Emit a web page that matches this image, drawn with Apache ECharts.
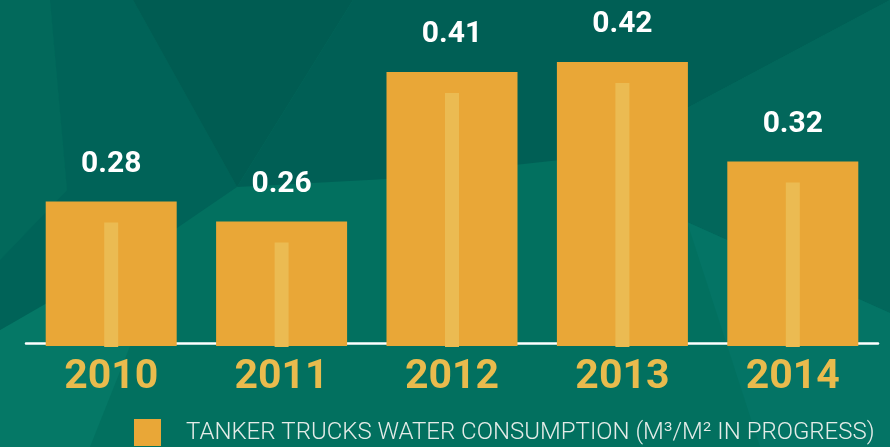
<!DOCTYPE html>
<html>
<head>
<meta charset="utf-8">
<script src="https://cdn.jsdelivr.net/npm/echarts@6/dist/echarts.min.js"></script>
<style>
html,body{margin:0;padding:0;background:#02705F;}
#chart{width:890px;height:447px;}
</style>
</head>
<body>
<div id="chart"></div>
<script>
const categories = ['2010', '2011', '2012', '2013', '2014'];
const consumption = [0.28, 0.26, 0.41, 0.42, 0.32];
const seriesName = 'TANKER TRUCKS WATER CONSUMPTION (M³/M² IN PROGRESS)';

const Y_MIN = 0.135;
const Y_MAX = 0.445;
const BAR_COLOR = '#E9A737';
const INNER_COLOR = '#EBBB52';

function poly(points, color) {
  return { type: 'polygon', silent: true, z: -10, shape: { points: points }, style: { fill: color } };
}

const chart = echarts.init(document.getElementById('chart'));
chart.setOption({
  backgroundColor: '#02705F',
  animation: false,
  graphic: [
    poly([[0,330],[177,228],[90,447],[0,447]], '#057866'),
    poly([[0,0],[50,0],[67,190],[0,260]], '#02695B'),
    poly([[50,0],[133,0],[237,187],[177,228],[0,330],[0,260],[67,190]], '#006358'),
    poly([[133,0],[353,0],[237,187]], '#005C52'),
    poly([[353,0],[890,0],[687,108],[560,160],[387,179],[237,187]], '#005F55'),
    poly([[687,108],[890,0],[890,313],[687,222],[560,160]], '#02675B'),
    poly([[687,222],[890,313],[890,447],[760,447]], '#047465')
  ],
  grid: { left: 26, right: 12, top: 37, bottom: 101 },
  legend: {
    left: 134,
    top: 419,
    padding: 0,
    icon: 'rect',
    itemWidth: 27,
    itemHeight: 27,
    selectedMode: false,
    data: [seriesName],
    textStyle: {
      color: '#E4ECE8',
      fontSize: 24,
      fontFamily: 'Roboto',
      fontWeight: 300,
      letterSpacing: 0.85,
      padding: [0, 0, 0, 20]
    }
  },
  xAxis: {
    type: 'category',
    data: categories,
    offset: -3,
    axisLine: { show: true, lineStyle: { color: '#FFFFFF', width: 2.5 } },
    axisTick: { show: false },
    axisLabel: {
      margin: 35,
      verticalAlign: 'middle',
      color: '#E9BB4D',
      fontSize: 41,
      fontWeight: 'bold',
      fontFamily: 'Roboto'
    }
  },
  yAxis: {
    type: 'value',
    min: Y_MIN,
    max: Y_MAX,
    show: false,
    splitLine: { show: false }
  },
  series: [
    {
      name: seriesName,
      type: 'bar',
      data: consumption,
      barWidth: 131,
      itemStyle: { color: BAR_COLOR },
      z: 2,
      label: {
        show: true,
        position: 'top',
        distance: 22,
        color: '#FFFFFF',
        fontSize: 30,
        fontWeight: 'bold',
        fontFamily: 'Roboto',
        formatter: function (p) { return p.value.toFixed(2); }
      }
    },
    {
      name: 'inner',
      type: 'custom',
      z: 3,
      data: consumption.map(function (v, i) { return [i, v]; }),
      renderItem: function (params, api) {
        const top = api.coord([api.value(0), api.value(1)]);
        const bottom = api.coord([api.value(0), Y_MIN]);
        const w = 14;
        const y0 = top[1] + 21;
        return {
          type: 'rect',
          shape: { x: top[0] - w / 2, y: y0, width: w, height: bottom[1] - y0 + 1 },
          style: { fill: INNER_COLOR }
        };
      }
    }
  ]
});
</script>
</body>
</html>
